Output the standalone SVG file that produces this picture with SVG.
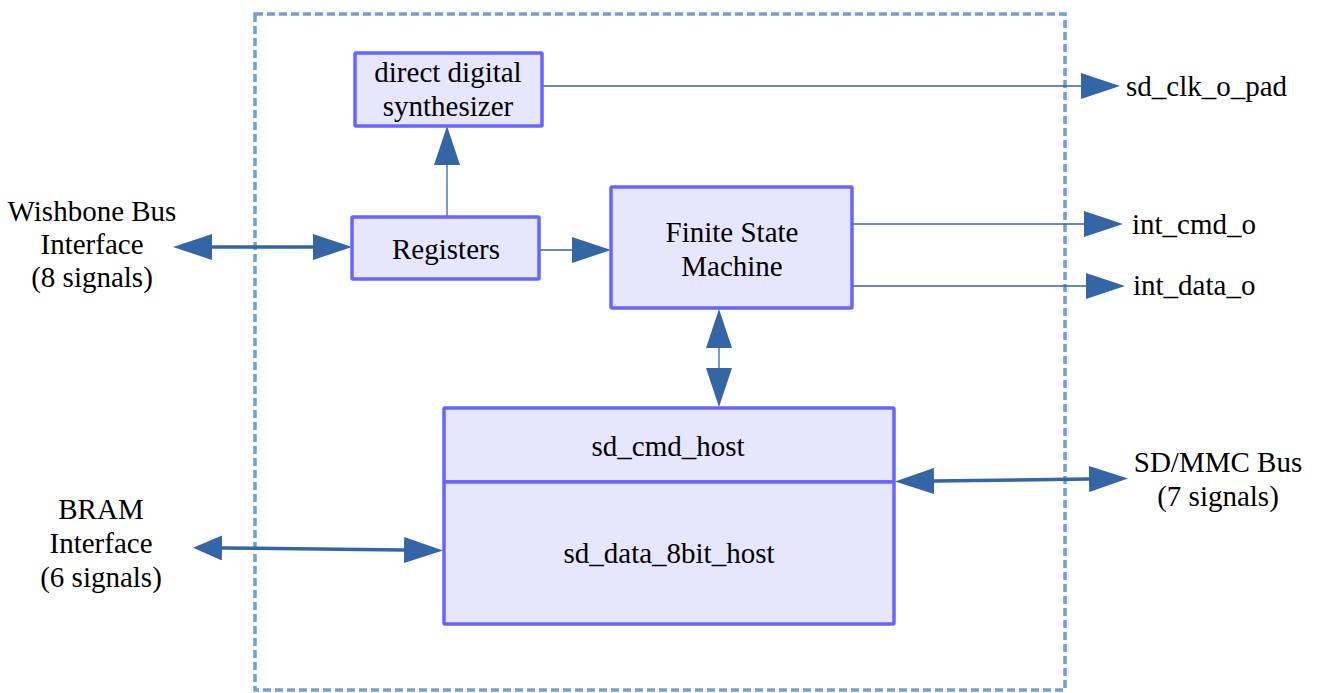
<svg xmlns="http://www.w3.org/2000/svg" width="1320" height="693" viewBox="0 0 1320 693">
<style>
.box{fill:#e6e6ff;stroke:#6666ff;stroke-width:3.5}
.t{font-family:"Liberation Serif","Times New Roman",serif;font-size:29px;fill:#000;text-anchor:middle}
.ts{font-family:"Liberation Serif","Times New Roman",serif;font-size:29px;fill:#000;text-anchor:start}
.thin{stroke:#3465a4;stroke-width:1.3;fill:none}
.thick{stroke:#3465a4;stroke-width:3.5;fill:none}
.frame{fill:none;stroke:#729fcf;stroke-width:3.5;stroke-dasharray:8,4}
</style>
<defs>
<marker id="ah" viewBox="0 -13 39 26" markerWidth="39" markerHeight="26" refX="0" refY="0" markerUnits="userSpaceOnUse" orient="auto-start-reverse">
<path d="M0,-13 L39,0 L0,13 z" fill="#3465a4"/>
</marker>
<marker id="ahs" viewBox="0 -12.5 29 25" markerWidth="29" markerHeight="25" refX="0" refY="0" markerUnits="userSpaceOnUse" orient="auto-start-reverse">
<path d="M0,-12.5 L29,0 L0,12.5 z" fill="#3465a4"/>
</marker>
</defs>
<rect class="frame" x="255" y="14" width="810" height="676"/>
<g id="connectors">
<line class="thick" x1="212" y1="247" x2="313" y2="247" marker-start="url(#ah)" marker-end="url(#ah)"/>
<line class="thin" x1="539" y1="250" x2="572" y2="250" marker-end="url(#ah)"/>
<line class="thin" x1="447" y1="217" x2="447" y2="165" marker-end="url(#ah)"/>
<line class="thin" x1="542" y1="86" x2="1081" y2="86" marker-end="url(#ah)"/>
<line class="thin" x1="852" y1="224" x2="1084" y2="224" marker-end="url(#ah)"/>
<line class="thin" x1="852" y1="286" x2="1086" y2="286" marker-end="url(#ah)"/>
<line class="thin" x1="719" y1="348" x2="719" y2="368" marker-start="url(#ah)" marker-end="url(#ah)"/>
<line class="thick" x1="934" y1="481" x2="1089" y2="479" marker-start="url(#ah)" marker-end="url(#ah)"/>
<line class="thick" x1="222" y1="548" x2="404" y2="550" marker-start="url(#ahs)" marker-end="url(#ah)"/>
</g>
<g id="dds">
<rect class="box" x="355" y="53" width="187" height="73" rx="1"/>
<text class="t" x="448" y="82">direct digital</text>
<text class="t" x="448" y="116">synthesizer</text>
</g>
<g id="registers">
<rect class="box" x="352" y="217" width="187" height="62" rx="1"/>
<text class="t" x="446" y="259">Registers</text>
</g>
<g id="fsm">
<rect class="box" x="611" y="187" width="241" height="121" rx="1"/>
<text class="t" x="732" y="242">Finite State</text>
<text class="t" x="732" y="276">Machine</text>
</g>
<g id="sd_cmd_host">
<rect class="box" x="444" y="408" width="450" height="74" rx="1"/>
<text class="t" x="668" y="456">sd_cmd_host</text>
</g>
<g id="sd_data_8bit_host">
<rect class="box" x="444" y="482" width="450" height="142" rx="1"/>
<text class="t" x="669" y="563">sd_data_8bit_host</text>
</g>
<g id="wishbone">
<text class="t" x="92" y="221">Wishbone Bus</text>
<text class="t" x="92" y="254">Interface</text>
<text class="t" x="92" y="287">(8 signals)</text>
</g>
<g id="bram">
<text class="t" x="101" y="519">BRAM</text>
<text class="t" x="101" y="553">Interface</text>
<text class="t" x="101" y="587">(6 signals)</text>
</g>
<g id="sdmmc">
<text class="t" x="1218" y="472">SD/MMC Bus</text>
<text class="t" x="1218" y="506">(7 signals)</text>
</g>
<g id="sd_clk_o_pad"><text class="ts" x="1126" y="96">sd_clk_o_pad</text></g>
<g id="int_cmd_o"><text class="ts" x="1132" y="234">int_cmd_o</text></g>
<g id="int_data_o"><text class="ts" x="1133" y="295">int_data_o</text></g>
</svg>
